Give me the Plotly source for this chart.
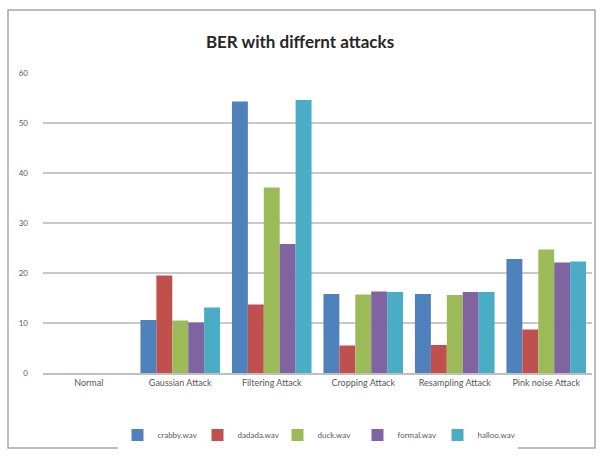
import plotly.graph_objects as go

categories = ["Normal", "Gaussian Attack", "Filtering Attack", "Cropping Attack",
              "Resampling Attack", "Pink noise Attack"]
series_names = ["crabby.wav", "dadada.wav", "duck.wav", "formal.wav", "halloo.wav"]
crabby = [0, 10.6, 54.3, 15.8, 15.8, 22.8]
dadada = [0, 19.5, 13.7, 5.5, 5.6, 8.7]
duck = [0, 10.5, 37.1, 15.7, 15.6, 24.7]
formal = [0, 10.1, 25.8, 16.3, 16.2, 22.1]
halloo = [0, 13.1, 54.6, 16.2, 16.2, 22.3]
colors = ["#4F81BD", "#C0504D", "#9BBB59", "#8064A2", "#4BACC6"]
y_ticks = [0, 10, 20, 30, 40, 50, 60]

fig = go.Figure()
for name, vals, col in zip(series_names, [crabby, dadada, duck, formal, halloo], colors):
    fig.add_trace(go.Bar(x=categories, y=vals, name=name, marker_color=col,
                         marker_line_width=0))

PW, PH = 549, 300  # plot area size in pixels

fig.update_layout(
    width=600, height=457,
    paper_bgcolor="white", plot_bgcolor="white",
    margin=dict(l=43, r=8, t=73, b=84),
    barmode="group", bargap=0.13, bargroupgap=0,
    font=dict(family="Lato, Open Sans, sans-serif", size=9, color="#595959"),
    title=dict(text="<b>BER with differnt attacks</b>", x=0.5, xanchor="center",
               y=1 - 42 / 457, yref="container", yanchor="middle",
               font=dict(family="Lato, sans-serif", size=17, color="#262626")),
    legend=dict(orientation="h", x=0.5, xanchor="center", y=-0.207, yanchor="middle",
                font=dict(size=8, color="#595959"), itemwidth=30,
                entrywidth=35, entrywidthmode="pixels",
                traceorder="normal"),
    xaxis=dict(showgrid=False, showline=True, linecolor="#BFBFBF", linewidth=1.5,
               ticks="", tickfont=dict(size=9)),
    yaxis=dict(range=[0, 60], tickvals=y_ticks, showgrid=True, gridcolor="#C8C8C8",
               gridwidth=1.5, zeroline=False, showline=False, ticklabelstandoff=14,
               tickfont=dict(size=8)),
)

# outer chart frame
fig.add_shape(type="rect", xref="paper", yref="paper",
              x0=-35 / PW, x1=1 + 3 / PW, y0=-75 / PH, y1=1 + 63 / PH,
              line=dict(color="#A6A6A6", width=1.5), fillcolor="rgba(0,0,0,0)")

fig.write_html("out.html")
